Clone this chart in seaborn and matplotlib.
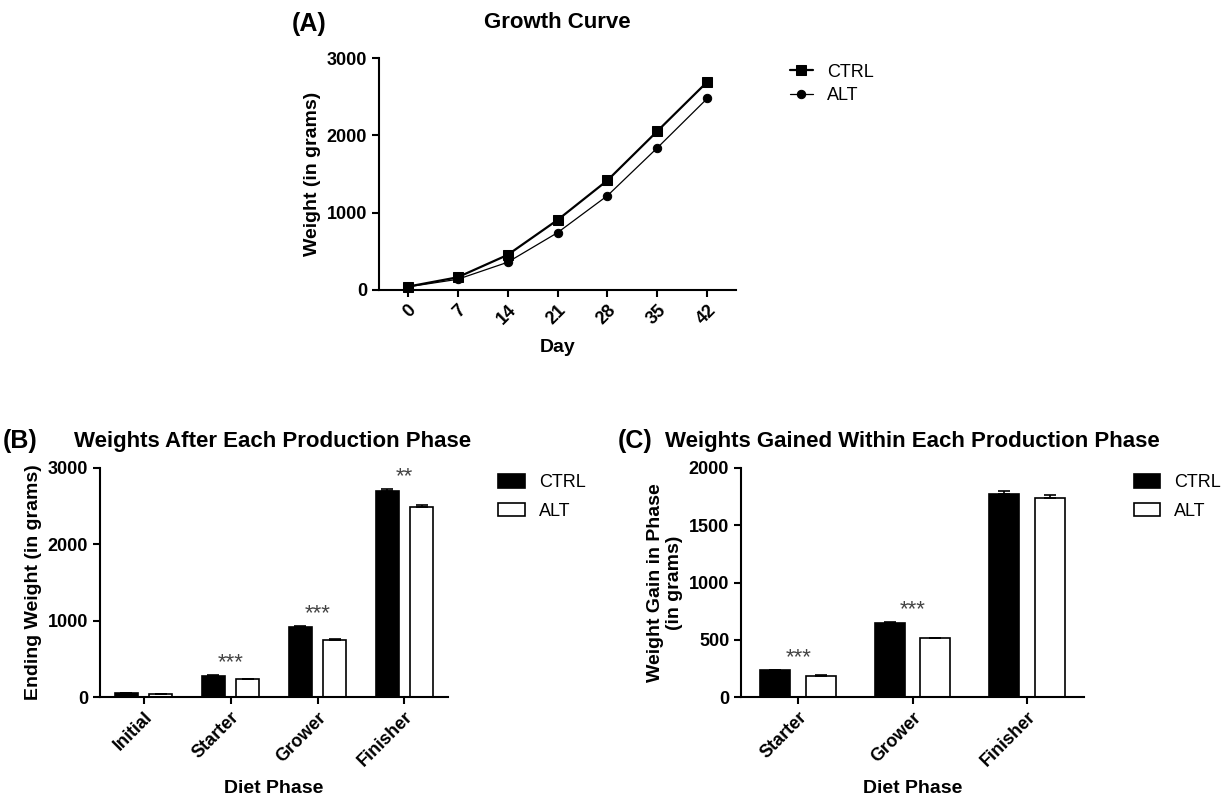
import numpy as np
import pandas as pd
import seaborn as sb
import matplotlib
matplotlib.use("Agg")
import matplotlib.pyplot as plt

## growth curve (panel A)
days = [0, 7, 14, 21, 28, 35, 42]
ctrl_growth = [43, 164, 453, 905, 1418, 2056, 2694]
alt_growth = [40, 138, 358, 741, 1220, 1840, 2479]

## ending weights (panel B)
phases_b = ["Initial", "Starter", "Grower", "Finisher"]
ctrl_end = [48, 279, 921, 2699]
ctrl_end_err = [3, 5, 6, 26]
alt_end = [40, 232, 747, 2485]
alt_end_err = [3, 4, 8, 35]
sig_b = ["", "***", "***", "**"]

## weight gained (panel C)
phases_c = ["Starter", "Grower", "Finisher"]
ctrl_gain = [236, 646, 1776]
ctrl_gain_err = [3, 6, 26]
alt_gain = [186, 513, 1738]
alt_gain_err = [3, 6, 29]
sig_c = ["***", "***", ""]

groups = ["CTRL", "ALT"]

sb.set_style("ticks")
plt.rcParams["font.family"] = ["Liberation Sans", "DejaVu Sans"]
plt.rcParams["axes.linewidth"] = 1.5
plt.rcParams["xtick.major.width"] = 1.5
plt.rcParams["ytick.major.width"] = 1.5
plt.rcParams["xtick.major.size"] = 5
plt.rcParams["ytick.major.size"] = 5
plt.rcParams["xtick.color"] = "black"
plt.rcParams["ytick.color"] = "black"
plt.rcParams["axes.edgecolor"] = "black"
plt.rcParams["text.color"] = "black"
plt.rcParams["axes.labelcolor"] = "black"

W, H = 1226, 799
fig = plt.figure(figsize=(W / 100, H / 100), dpi=100)


def rect(x0, y0, x1, y1):
    return [x0 / W, 1 - y1 / H, (x1 - x0) / W, (y1 - y0) / H]


def style_axes(ax):
    sb.despine(ax=ax)
    for lab in ax.get_xticklabels() + ax.get_yticklabels():
        lab.set_fontweight("bold")
        lab.set_fontsize(13)
    for lab in ax.get_xticklabels():
        lab.set_rotation(45)
        lab.set_ha("right")
        lab.set_rotation_mode("anchor")


## ---------------- panel A ----------------
axA = fig.add_axes(rect(379, 58, 736, 290))
growth = pd.DataFrame({"day": days * 2,
                       "weight": ctrl_growth + alt_growth,
                       "group": ["CTRL"] * len(days) + ["ALT"] * len(days)})
sb.lineplot(data=growth[growth.group == "CTRL"], x="day", y="weight", color="black",
            marker="s", markersize=7, linewidth=1.6, markeredgecolor="black",
            label="CTRL", ax=axA, clip_on=False)
sb.lineplot(data=growth[growth.group == "ALT"], x="day", y="weight", color="black",
            marker="o", markersize=6, linewidth=0.9, markeredgecolor="black",
            label="ALT", ax=axA, clip_on=False)
axA.set_xlim(-4, 46)
axA.set_ylim(0, 3000)
axA.set_xticks(days)
axA.set_yticks([0, 1000, 2000, 3000])
axA.set_xlabel("Day", fontsize=14, fontweight="bold", labelpad=8)
axA.set_ylabel("Weight (in grams)", fontsize=14, fontweight="bold")
fig.text(557 / W, 1 - 23 / H, "Growth Curve", fontsize=16, fontweight="bold",
         ha="center", va="center")
style_axes(axA)
axA.legend(loc="upper left", bbox_to_anchor=(1.15, 0.975), frameon=False,
           fontsize=13, borderpad=0, borderaxespad=0, handlelength=1.3,
           handletextpad=0.8, labelspacing=0.35)
fig.text(292 / W, 1 - 24 / H, "(A)", fontsize=18, fontweight="bold", va="center")


## ---------------- bar panels ----------------
def bar_panel(ax, phases, ctrl, ctrl_err, alt, alt_err, sig, ymax, yticks):
    df = pd.DataFrame({"phase": phases * 2,
                       "value": ctrl + alt,
                       "group": ["CTRL"] * len(phases) + ["ALT"] * len(phases)})
    sb.barplot(data=df, x="phase", y="value", hue="group", hue_order=groups,
               palette={"CTRL": "black", "ALT": "white"}, edgecolor="black",
               linewidth=1.2, gap=0.34, width=0.8, errorbar=None, ax=ax)
    errs = [ctrl_err, alt_err]
    for cont, err in zip(ax.containers, errs):
        xs = [b.get_x() + b.get_width() / 2 for b in cont]
        ys = [b.get_height() for b in cont]
        ax.errorbar(xs, ys, yerr=[np.zeros(len(err)), err], fmt="none",
                    ecolor="black", elinewidth=1.2, capsize=4, capthick=1.2)
    for i, s in enumerate(sig):
        if s:
            top = max(ctrl[i] + ctrl_err[i], alt[i] + alt_err[i])
            ax.annotate(s, (i, top), xytext=(0, 5), textcoords="offset points",
                        ha="center", va="baseline", fontsize=16, color="#444444")
    ax.set_xlim(-0.5, len(phases) - 0.5)
    ax.set_ylim(0, ymax)
    ax.set_yticks(yticks)
    ax.set_xlabel("Diet Phase", fontsize=14, fontweight="bold", labelpad=7)
    style_axes(ax)
    sb.move_legend(ax, "upper left", bbox_to_anchor=(1.145, 0.975), frameon=False,
                   title=None, fontsize=13, borderpad=0, borderaxespad=0,
                   handlelength=1.45, handleheight=0.8, handletextpad=0.8,
                   labelspacing=0.65)


axB = fig.add_axes(rect(100, 468, 448, 697))
bar_panel(axB, phases_b, ctrl_end, ctrl_end_err, alt_end, alt_end_err, sig_b,
          3000, [0, 1000, 2000, 3000])
axB.set_ylabel("Ending Weight (in grams)", fontsize=14, fontweight="bold")
fig.text(273 / W, 1 - 441 / H, "Weights After Each Production Phase",
         fontsize=16, fontweight="bold", ha="center", va="center")
fig.text(3 / W, 1 - 441 / H, "(B)", fontsize=18, fontweight="bold", va="center")

axC = fig.add_axes(rect(741, 468, 1084, 697))
bar_panel(axC, phases_c, ctrl_gain, ctrl_gain_err, alt_gain, alt_gain_err, sig_c,
          2000, [0, 500, 1000, 1500, 2000])
axC.set_ylabel("Weight Gain in Phase\n(in grams)", fontsize=14, fontweight="bold")
fig.text(912 / W, 1 - 441 / H, "Weights Gained Within Each Production Phase",
         fontsize=16, fontweight="bold", ha="center", va="center")
fig.text(618 / W, 1 - 441 / H, "(C)", fontsize=18, fontweight="bold", va="center")

fig.savefig("out.png", dpi=100)
